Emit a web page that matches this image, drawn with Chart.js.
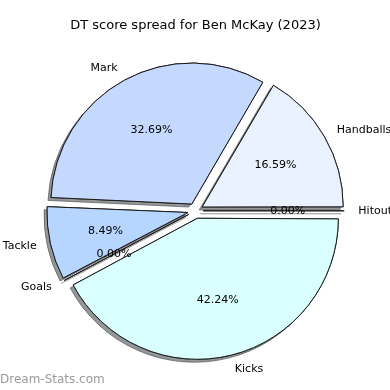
<!DOCTYPE html>
<html>
<head>
<meta charset="utf-8">
<script src="https://cdn.jsdelivr.net/npm/chart.js@4.4.0/dist/chart.umd.min.js"></script>
<style>
  html, body { margin: 0; padding: 0; background: #fff; }
  canvas { display: block; }
</style>
</head>
<body>
<canvas id="pieChart" width="390" height="390"></canvas>
<script>
// Slices in drawing order (clockwise, starting at 3 o'clock)
const categories = ['Hitout', 'Kicks', 'Goals', 'Tackle', 'Mark', 'Handballs'];
const shares = [0, 42.24, 0, 8.49, 32.69, 16.59];
const sliceColors = ['#f0f8ff', '#d9ffff', '#add8e6', '#b6d6ff', '#c5d9ff', '#ebf2ff'];

const chartTitle = 'DT score spread for Ben McKay (2023)';
const watermark = 'Dream-Stats.com';

const fontFamily = '"DejaVu Sans", sans-serif';
const pieRadius = 141;
const explodePx = 7.7;
const total = shares.reduce((a, b) => a + b, 0);

// Chart.js moves an arc by offset/4 and also grows its radius a bit
function arcFix(value) {
    const circ = value / total * 2 * Math.PI;
    return 1 - Math.sin(Math.min(Math.PI, circ));
}

function setShadow(ctx) {
    ctx.shadowColor = 'rgba(60, 65, 70, 0.55)';
    ctx.shadowOffsetX = -3;
    ctx.shadowOffsetY = 3;
    ctx.shadowBlur = 0;
}

// empty slices show up as a single edge line
function drawEmptySlices(chart, ctx) {
    const meta = chart.getDatasetMeta(0);
    meta.data.forEach((arc, i) => {
        if (shares[i] !== 0) return;
        const a = arc.startAngle;
        const cx = arc.x + Math.cos(a) * explodePx;
        const cy = arc.y + Math.sin(a) * explodePx;
        ctx.strokeStyle = '#1a1a1a';
        ctx.lineWidth = 1;
        ctx.beginPath();
        ctx.moveTo(cx, cy);
        ctx.lineTo(cx + Math.cos(a) * pieRadius, cy + Math.sin(a) * pieRadius);
        ctx.stroke();
    });
}

const piePlugin = {
    id: 'piePlugin',
    afterDatasetUpdate(chart) {
        // keep every slice at the same radius
        const meta = chart.getDatasetMeta(0);
        meta.data.forEach((arc, i) => {
            arc.outerRadius = pieRadius - explodePx * arcFix(shares[i]);
        });
    },
    beforeDatasetsDraw(chart) {
        // shadow pass: everything once with a shadow, the normal pass covers it
        const ctx = chart.ctx;
        const meta = chart.getDatasetMeta(0);
        ctx.save();
        setShadow(ctx);
        meta.data.forEach(arc => arc.draw(ctx));
        drawEmptySlices(chart, ctx);
        ctx.restore();
    },
    afterDatasetsDraw(chart) {
        const ctx = chart.ctx;
        const meta = chart.getDatasetMeta(0);

        ctx.save();
        drawEmptySlices(chart, ctx);
        ctx.restore();

        ctx.save();
        ctx.fillStyle = '#000';
        ctx.font = '11px ' + fontFamily;
        ctx.textBaseline = 'middle';
        meta.data.forEach((arc, i) => {
            const a = (arc.startAngle + arc.endAngle) / 2;
            const dx = Math.cos(a), dy = Math.sin(a);
            const cx = arc.x + dx * explodePx;
            const cy = arc.y + dy * explodePx;

            ctx.textAlign = dx >= 0 ? 'left' : 'right';
            ctx.fillText(categories[i], cx + dx * pieRadius * 1.1, cy + dy * pieRadius * 1.1);

            ctx.textAlign = 'center';
            const pct = (shares[i] / total * 100).toFixed(2) + '%';
            ctx.fillText(pct, cx + dx * pieRadius * 0.6, cy + dy * pieRadius * 0.6);
        });
        ctx.restore();
    },
    afterDraw(chart) {
        const ctx = chart.ctx;
        ctx.save();
        ctx.fillStyle = '#9a9a9a';
        ctx.font = '12px ' + fontFamily;
        ctx.textAlign = 'left';
        ctx.textBaseline = 'middle';
        ctx.fillText(watermark, 0, 380);
        ctx.restore();
    }
};

const ctx = document.getElementById('pieChart').getContext('2d');

new Chart(ctx, {
    type: 'pie',
    data: {
        labels: categories,
        datasets: [{
            data: shares,
            backgroundColor: sliceColors,
            borderColor: '#1a1a1a',
            borderWidth: 1,
            offset: explodePx * 4,
            hoverOffset: 0
        }]
    },
    options: {
        responsive: false,
        animation: false,
        events: [],
        rotation: 90,
        radius: pieRadius,
        layout: {
            padding: { left: 1, right: 0, top: 0, bottom: 8 }
        },
        plugins: {
            legend: { display: false },
            tooltip: { enabled: false },
            title: {
                display: true,
                text: chartTitle,
                color: '#000',
                font: { family: fontFamily, size: 13, weight: 'normal' },
                padding: { top: 18, bottom: 6 }
            }
        }
    },
    plugins: [piePlugin]
});
</script>
</body>
</html>
